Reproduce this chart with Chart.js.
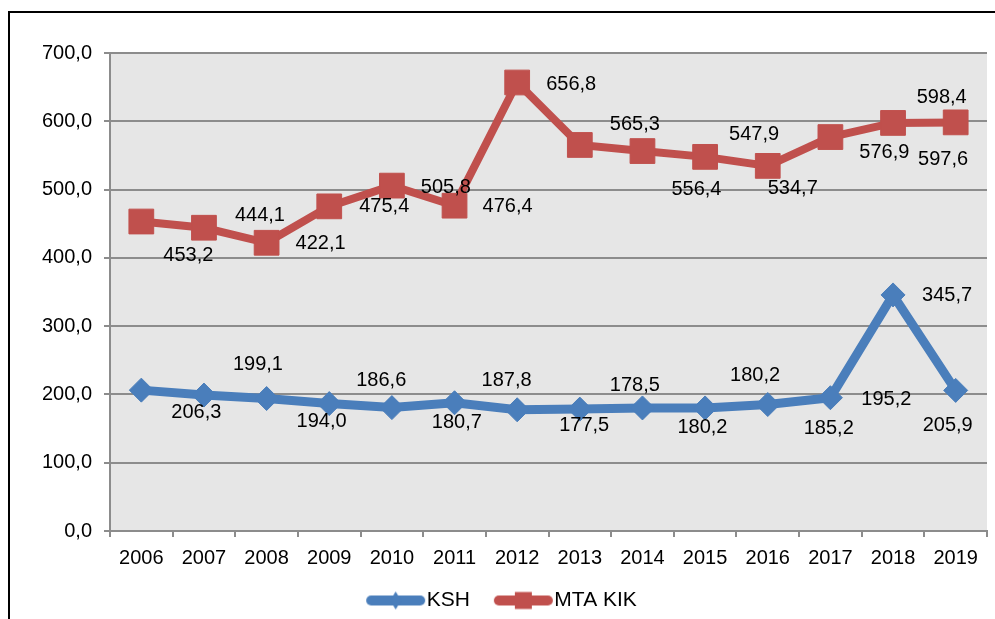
<!DOCTYPE html>
<html>
<head>
<meta charset="utf-8">
<script src="https://cdn.jsdelivr.net/npm/chart.js@4"></script>
<style>
  html, body { margin: 0; padding: 0; background: #ffffff; }
  #wrap { width: 995px; height: 619px; position: relative; }
</style>
</head>
<body>
<div id="wrap"><canvas id="myChart" width="995" height="619"></canvas></div>
<script>
// data
var years = ['2006','2007','2008','2009','2010','2011','2012','2013','2014','2015','2016','2017','2018','2019'];
var kshValues = [206.3, 199.1, 194.0, 186.6, 180.7, 187.8, 177.5, 178.5, 180.2, 180.2, 185.2, 195.2, 345.7, 205.9];
var mtaValues = [453.2, 444.1, 422.1, 475.4, 505.8, 476.4, 656.8, 565.3, 556.4, 547.9, 534.7, 576.9, 597.6, 598.4];
var yTicks = [0, 100, 200, 300, 400, 500, 600, 700];

// where each value label sits relative to its point (px)
var kshLabelDx = [55, 54, 55, 52, 65, 52, 67, 55, 60, 50, 61, 56, 54, -8];
var kshLabelDy = [22, -31, 23, -23, 15, -22, 16, -24, 20, -32, 24, 2, 1, 35];
var mtaLabelDx = [47, 56, 54, 55, 54, 53, 54, 55, 54, 49, 25, 54, 50, -14];
var mtaLabelDy = [34, -12, 1, 0, 2, 1, 2, -20, 38, -22, 23, 15, 37, -25];

var blue = '#4a7ebb';
var red = '#c0504d';
var font = '"Liberation Sans", Arial, sans-serif';

function fmt(v) {
    return v.toFixed(1).replace('.', ',');
}

// legend symbol: thick line with the marker in the middle
// (legend box is 66 wide, the image is 120 wide and centred on it)
function legendIcon(color, shape) {
    var c = document.createElement('canvas');
    c.width = 120;
    c.height = 22;
    var g = c.getContext('2d');
    g.strokeStyle = color;
    g.lineWidth = 10;
    g.lineCap = 'round';
    g.beginPath();
    g.moveTo(48, 11);
    g.lineTo(97, 11);
    g.stroke();
    g.fillStyle = color;
    g.beginPath();
    if (shape == 'diamond') {
        g.moveTo(72.5, 2); g.lineTo(78, 11); g.lineTo(72.5, 20); g.lineTo(67, 11);
    } else {
        g.rect(64, 2.5, 17, 17);
    }
    g.closePath();
    g.fill();
    return c;
}

var frameAndBg = {
    id: 'frameAndBg',
    beforeDraw: function(chart) {
        var ctx = chart.ctx;
        var a = chart.chartArea;
        ctx.save();
        ctx.fillStyle = '#ffffff';
        ctx.fillRect(0, 0, chart.width, chart.height);
        ctx.fillStyle = '#e6e6e6';
        ctx.fillRect(a.left, a.top, a.right - a.left, a.bottom - a.top);
        ctx.strokeStyle = '#000000';
        ctx.lineWidth = 2;
        ctx.beginPath();
        ctx.moveTo(9, 619);
        ctx.lineTo(9, 12);
        ctx.lineTo(995, 12);
        ctx.stroke();
        ctx.restore();
    }
};

var valueLabels = {
    id: 'valueLabels',
    afterDatasetsDraw: function(chart) {
        var ctx = chart.ctx;
        var offsets = [[kshLabelDx, kshLabelDy], [mtaLabelDx, mtaLabelDy]];
        ctx.save();
        ctx.font = '20px ' + font;
        ctx.fillStyle = '#000000';
        ctx.textAlign = 'center';
        ctx.textBaseline = 'middle';
        chart.data.datasets.forEach(function(ds, d) {
            var meta = chart.getDatasetMeta(d);
            meta.data.forEach(function(pt, i) {
                ctx.fillText(fmt(ds.data[i]), pt.x + offsets[d][0][i], pt.y + offsets[d][1][i]);
            });
        });
        ctx.restore();
    }
};

var ctx = document.getElementById('myChart').getContext('2d');
var myChart = new Chart(ctx, {
    type: 'line',
    data: {
        labels: years,
        datasets: [{
            label: 'KSH',
            data: kshValues,
            borderColor: blue,
            backgroundColor: blue,
            borderWidth: 9,
            pointStyle: 'rectRot',
            pointRadius: 12,
            pointBorderWidth: 1,
            pointBorderColor: blue,
            pointBackgroundColor: blue,
            tension: 0
        }, {
            label: 'MTA KIK',
            data: mtaValues,
            borderColor: red,
            backgroundColor: red,
            borderWidth: 8,
            pointStyle: 'rect',
            pointRadius: 17.5,
            pointBorderWidth: 1,
            pointBorderColor: red,
            pointBackgroundColor: red,
            tension: 0
        }]
    },
    options: {
        responsive: false,
        animation: false,
        devicePixelRatio: 1,
        layout: {
            autoPadding: false,
            padding: { left: 0, top: 53, right: 8, bottom: -2 }
        },
        plugins: {
            tooltip: { enabled: false },
            legend: {
                position: 'bottom',
                labels: {
                    usePointStyle: true,
                    pointStyleWidth: 66,
                    padding: 8,
                    color: '#000000',
                    font: { family: font, size: 21 },
                    generateLabels: function(chart) {
                        return [
                            { text: 'KSH', pointStyle: legendIcon(blue, 'diamond'), fillStyle: blue, strokeStyle: blue, lineWidth: 0, datasetIndex: 0 },
                            { text: 'MTA KIK', pointStyle: legendIcon(red, 'square'), fillStyle: red, strokeStyle: red, lineWidth: 0, datasetIndex: 1 }
                        ];
                    }
                }
            }
        },
        scales: {
            x: {
                offset: true,
                grid: {
                    offset: true,
                    drawOnChartArea: false,
                    drawTicks: true,
                    tickLength: 6,
                    color: '#8c8c8c',
                    lineWidth: 2
                },
                border: { color: '#8c8c8c', width: 2 },
                ticks: {
                    color: '#000000',
                    padding: 9,
                    maxRotation: 0,
                    autoSkip: false,
                    font: { family: font, size: 20 }
                },
                afterFit: function(s) {
                    s.height = 51;
                    s.paddingLeft = 0;
                    s.paddingRight = 0;
                }
            },
            y: {
                min: 0,
                max: 700,
                afterBuildTicks: function(s) {
                    s.ticks = yTicks.map(function(v) { return { value: v }; });
                },
                grid: {
                    color: '#8c8c8c',
                    lineWidth: 2,
                    tickLength: 6
                },
                border: { color: '#8c8c8c', width: 2 },
                ticks: {
                    color: '#000000',
                    padding: 12,
                    font: { family: font, size: 20 },
                    callback: function(v) { return fmt(v); }
                },
                afterFit: function(s) { s.width = 110; }
            }
        }
    },
    plugins: [frameAndBg, valueLabels]
});
</script>
</body>
</html>
